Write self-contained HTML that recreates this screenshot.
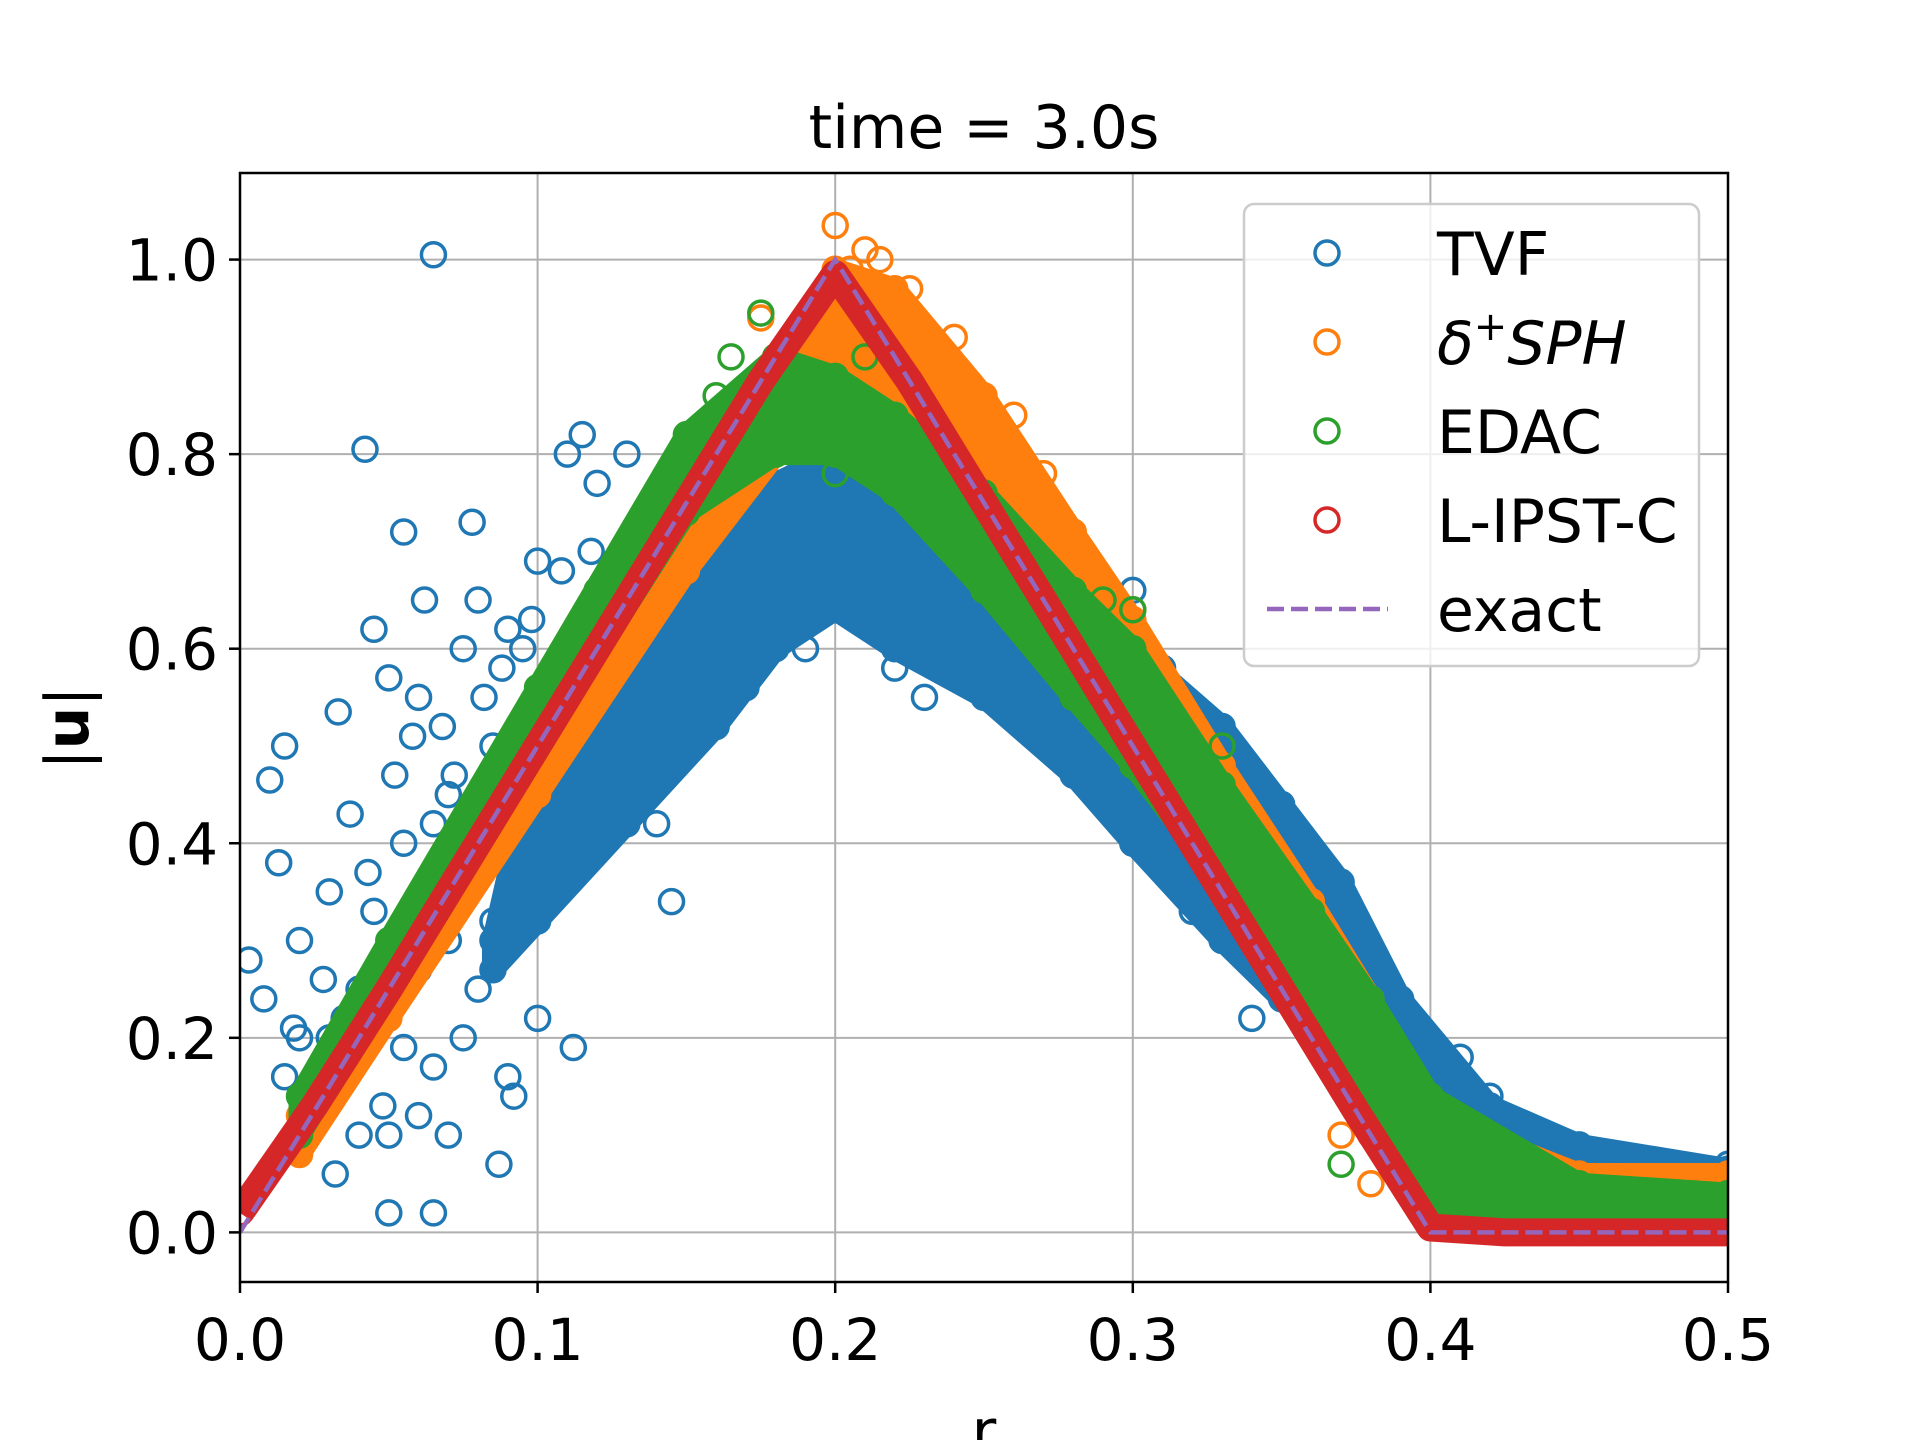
<!DOCTYPE html>
<html><head><meta charset="utf-8">
<style>
html,body{margin:0;padding:0;background:#fff;}
svg{display:block;font-family:"DejaVu Sans","Liberation Sans",sans-serif;}
</style></head>
<body>
<svg id="chart" width="1920" height="1440" viewBox="0 0 1920 1440" xmlns="http://www.w3.org/2000/svg">
<rect width="1920" height="1440" fill="#fff"/>
<defs><clipPath id="clip"><rect x="240" y="173" width="1488" height="1109"/></clipPath></defs>
<g id="grid"></g>
<g id="plot" clip-path="url(#clip)"></g>
<rect x="240" y="173" width="1488" height="1109" fill="none" stroke="#000" stroke-width="2.5"/>
<g id="ticks"></g>
<text x="984" y="148" font-size="60" text-anchor="middle">time = 3.0s</text>
<text x="984" y="1452" font-size="60" text-anchor="middle">r</text>
<text transform="translate(88,728) rotate(-90)" font-size="60" text-anchor="middle">|<tspan font-weight="bold">u</tspan>|</text>
<g id="legend"></g>
</svg>
<script>
const xMin = 0, xMax = 0.5, yMin = -0.051, yMax = 1.089;
const xTicks = [0, 0.1, 0.2, 0.3, 0.4, 0.5];
const xTickLabels = ["0.0","0.1","0.2","0.3","0.4","0.5"];
const yTicks = [0, 0.2, 0.4, 0.6, 0.8, 1.0];
const yTickLabels = ["0.0","0.2","0.4","0.6","0.8","1.0"];

const tvfBandR  = [0.085,0.1,0.13,0.16,0.18,0.2,0.22,0.25,0.28,0.3,0.33,0.35,0.37,0.39,0.42,0.45,0.5];
const tvfBandLo = [0.27,0.32,0.42,0.52,0.6,0.64,0.6,0.55,0.47,0.4,0.3,0.24,0.18,0.12,0.06,0.04,0.035];
const tvfBandHi = [0.3,0.5,0.62,0.72,0.77,0.8,0.76,0.72,0.66,0.6,0.52,0.44,0.36,0.24,0.13,0.09,0.065];
const tvfR = [0.065,0.042,0.055,0.078,0.045,0.062,0.01,0.015,0.013,0.003,0.008,0.02,0.033,0.03,0.037,0.043,0.05,0.06,0.07,0.075,0.08,0.085,0.09,0.095,0.1,0.11,0.115,0.12,0.13,0.065,0.05,0.087,0.032,0.05,0.04,0.07,0.075,0.092,0.09,0.1,0.112,0.145,0.06,0.065,0.055,0.02,0.025,0.015,0.04,0.08,0.085,0.095,0.07,0.06,0.05,0.03,0.045,0.055,0.065,0.075,0.08,0.085,0.1,0.105,0.11,0.12,0.13,0.14,0.15,0.16,0.17,0.18,0.19,0.22,0.23,0.24,0.26,0.27,0.28,0.3,0.3,0.32,0.34,0.36,0.37,0.38,0.39,0.41,0.42,0.44,0.46,0.48,0.5,0.3,0.31,0.33,0.345,0.052,0.058,0.068,0.072,0.082,0.088,0.098,0.035,0.028,0.018,0.048,0.108,0.118,0.125,0.135];
const tvfU = [1.005,0.805,0.72,0.73,0.62,0.65,0.465,0.5,0.38,0.28,0.24,0.3,0.535,0.35,0.43,0.37,0.57,0.55,0.45,0.6,0.65,0.5,0.62,0.6,0.69,0.8,0.82,0.77,0.8,0.02,0.02,0.07,0.06,0.1,0.1,0.1,0.2,0.14,0.16,0.22,0.19,0.34,0.12,0.17,0.19,0.2,0.15,0.16,0.25,0.25,0.32,0.38,0.3,0.27,0.28,0.2,0.33,0.4,0.42,0.35,0.4,0.45,0.45,0.35,0.42,0.4,0.45,0.42,0.55,0.62,0.56,0.62,0.6,0.58,0.55,0.6,0.68,0.55,0.5,0.66,0.45,0.33,0.22,0.38,0.35,0.24,0.2,0.18,0.14,0.1,0.08,0.06,0.07,0.6,0.58,0.5,0.45,0.47,0.51,0.52,0.47,0.55,0.58,0.63,0.22,0.26,0.21,0.13,0.68,0.7,0.6,0.65];

const sphBandR  = [0.02,0.05,0.1,0.15,0.18,0.2,0.22,0.25,0.28,0.3,0.33,0.36,0.38,0.4,0.45,0.5];
const sphBandLo = [0.08,0.22,0.45,0.68,0.8,0.88,0.86,0.76,0.62,0.52,0.38,0.22,0.1,0.02,0.02,0.02];
const sphBandHi = [0.12,0.26,0.5,0.76,0.9,0.99,0.97,0.86,0.72,0.63,0.48,0.34,0.24,0.12,0.06,0.06];
const sphR = [0.2,0.21,0.215,0.26,0.175,0.3,0.33,0.37,0.38,0.205,0.225,0.24,0.35,0.36,0.27,0.43,0.47,0.5];
const sphU = [1.035,1.01,1.0,0.84,0.94,0.64,0.47,0.1,0.05,0.99,0.97,0.92,0.38,0.3,0.78,0.06,0.05,0.06];

const edacBandR  = [0.02,0.05,0.1,0.15,0.18,0.2,0.22,0.25,0.28,0.3,0.33,0.36,0.38,0.4,0.45,0.5];
const edacBandLo = [0.1,0.25,0.5,0.74,0.8,0.8,0.76,0.66,0.55,0.48,0.36,0.24,0.14,0.03,0.01,0.01];
const edacBandHi = [0.14,0.3,0.56,0.82,0.9,0.88,0.84,0.76,0.66,0.6,0.46,0.33,0.24,0.14,0.05,0.04];
const edacR = [0.175,0.165,0.2,0.3,0.37,0.29,0.16,0.12,0.21,0.33,0.42,0.46];
const edacU = [0.945,0.9,0.78,0.64,0.07,0.65,0.86,0.66,0.9,0.5,0.06,0.04];

const lipR = [0,0.025,0.05,0.075,0.1,0.125,0.15,0.175,0.2,0.225,0.25,0.275,0.3,0.325,0.35,0.375,0.4,0.425,0.45,0.475,0.5];
const lipU = [0.02,0.13,0.25,0.375,0.5,0.625,0.75,0.875,0.985,0.875,0.75,0.625,0.5,0.375,0.25,0.125,0.005,0,0,0,0];

const exactR = [0, 0.2, 0.4, 0.5];
const exactU = [0, 1, 0, 0];

const X0 = 240, X1 = 1728, Y0 = 1282, Y1 = 173;
function sx(v){ return X0 + (v - xMin) / (xMax - xMin) * (X1 - X0); }
function sy(v){ return Y0 - (v - yMin) / (yMax - yMin) * (Y0 - Y1); }
const NS = "http://www.w3.org/2000/svg";
function mk(tag, attrs, parent){ const e = document.createElementNS(NS, tag); for (const k in attrs) e.setAttribute(k, attrs[k]); parent.appendChild(e); return e; }

const grid = document.getElementById('grid'), ticks = document.getElementById('ticks'), plot = document.getElementById('plot'), legend = document.getElementById('legend');
xTicks.forEach((t, i) => {
  const g = mk('line', {x1: sx(t), x2: sx(t), y1: Y1, y2: Y0, stroke: '#b0b0b0', 'stroke-width': 2}, grid);
  
  
  const tk = mk('line', {x1: sx(t), x2: sx(t), y1: Y0, y2: Y0 + 11, stroke: '#000', 'stroke-width': 2.5}, ticks);
  
  
  const tl = mk('text', {x: sx(t), y: Y0 + 78, 'font-size': 58, 'text-anchor': 'middle'}, ticks);
  tl.textContent = xTickLabels[i];
  
  
});
yTicks.forEach((t, i) => {
  const g = mk('line', {x1: X0, x2: X1, y1: sy(t), y2: sy(t), stroke: '#b0b0b0', 'stroke-width': 2}, grid);
  
  
  const tk = mk('line', {x1: X0 - 11, x2: X0, y1: sy(t), y2: sy(t), stroke: '#000', 'stroke-width': 2.5}, ticks);
  
  
  const tl = mk('text', {x: X0 - 22, y: sy(t) + 21, 'font-size': 58, 'text-anchor': 'end'}, ticks);
  tl.textContent = yTickLabels[i];
  
  
});

function band(rs, lo, hi, color, name){
  let pts = rs.map((r, i) => sx(r) + ',' + sy(hi[i]));
  for (let i = rs.length - 1; i >= 0; i--) pts.push(sx(rs[i]) + ',' + sy(lo[i]));
  const p = mk('polygon', {points: pts.join(' '), fill: color, stroke: color, 'stroke-width': 22, 'stroke-linejoin': 'round'}, plot);
  
  
  rs.forEach((r, i) => {
    [lo[i], hi[i]].forEach(v => {
      const c = mk('circle', {cx: sx(r), cy: sy(v), r: 12, fill: 'none', stroke: color, 'stroke-width': 3.5}, plot);
      
      
    });
  });
}
function scatter(rs, us, color, name){
  rs.forEach((r, i) => {
    const c = mk('circle', {cx: sx(r), cy: sy(us[i]), r: 12, fill: 'none', stroke: color, 'stroke-width': 3.5}, plot);
    
    
  });
}
const BLUE = '#1f77b4', ORANGE = '#ff7f0e', GREEN = '#2ca02c', RED = '#d62728', PURPLE = '#9467bd';
scatter(tvfR, tvfU, BLUE, 'tvf-point');
band(tvfBandR, tvfBandLo, tvfBandHi, BLUE, 'tvf-band');
band(sphBandR, sphBandLo, sphBandHi, ORANGE, 'sph-band');
scatter(sphR, sphU, ORANGE, 'sph-point');
band(edacBandR, edacBandLo, edacBandHi, GREEN, 'edac-band');
scatter(edacR, edacU, GREEN, 'edac-point');
const redLine = mk('polyline', {points: lipR.map((r, i) => sx(r) + ',' + sy(lipU[i])).join(' '), fill: 'none', stroke: RED, 'stroke-width': 28, 'stroke-linejoin': 'round'}, plot);


scatter(lipR, lipU, RED, 'lipst-c-point');
const ex = mk('polyline', {points: exactR.map((r, i) => sx(r) + ',' + sy(exactU[i])).join(' '), fill: 'none', stroke: PURPLE, 'stroke-width': 4.5, 'stroke-dasharray': '17,7'}, plot);



const lb = mk('rect', {x: 1244, y: 204, width: 455, height: 462, rx: 10, fill: '#fff', 'fill-opacity': 0.8, stroke: '#cccccc', 'stroke-width': 2.5}, legend);


const legLabels = ['TVF', 'δ⁺SPH', 'EDAC', 'L-IPST-C', 'exact'];
const legColors = [BLUE, ORANGE, GREEN, RED, PURPLE];
const legYs = [253, 342, 431, 520, 609];
legLabels.forEach((lab, i) => {
  const y = legYs[i];
  if (i < 4) {
    const c = mk('circle', {cx: 1327, cy: y, r: 12, fill: 'none', stroke: legColors[i], 'stroke-width': 3.5}, legend);
    
    
  } else {
    const l = mk('line', {x1: 1267, x2: 1388, y1: y, y2: y, stroke: PURPLE, 'stroke-width': 4.5, 'stroke-dasharray': '17,7'}, legend);
    
    
  }
  const t = mk('text', {x: 1437, y: y + 22, 'font-size': 60}, legend);
  if (i === 1) {
    t.setAttribute('font-style', 'italic');
    t.innerHTML = 'δ<tspan dy="-24" font-size="40" font-style="normal">+</tspan><tspan dy="24">SPH</tspan>';
  } else t.textContent = lab;
  
  
});
</script>
</body></html>
